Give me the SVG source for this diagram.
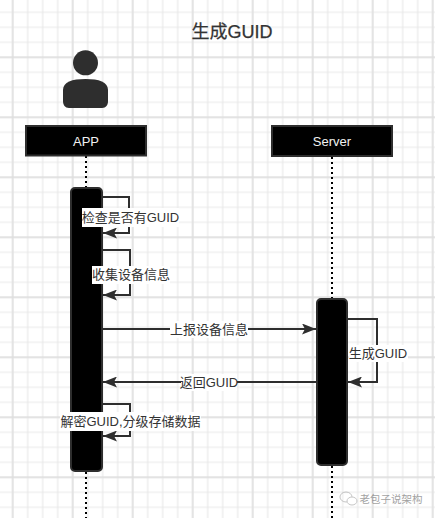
<svg xmlns="http://www.w3.org/2000/svg" width="435" height="518" viewBox="0 0 435 518">
<style>
text{font-family:"Liberation Sans","Noto Sans CJK SC",sans-serif;font-size:13px;fill:#333;text-anchor:middle}
.head{fill:#000;stroke:#2e2e2e;stroke-width:2}
.bar{fill:#000;stroke:#2e2e2e;stroke-width:2}
.life{fill:none;stroke:#000;stroke-width:2;stroke-dasharray:2 3}
.msg{fill:none;stroke:#2e2e2e;stroke-width:2;marker-end:url(#arr)}
.bg{fill:#fff}
.ht{fill:#f2f2f2;font-size:13px}
</style>
<defs>
<marker id="arr" markerUnits="userSpaceOnUse" markerWidth="15" markerHeight="11" refX="14" refY="5.5" orient="auto"><path d="M0 0L14 5.5L0 11L3 5.5Z" fill="#2e2e2e"/></marker>
<pattern id="minor" width="15" height="15" x="11.700" y="11.300" patternUnits="userSpaceOnUse"><path d="M0 1H15M1 0V15" fill="none" stroke="#e9e9e9" stroke-width="1.2"/></pattern>
<pattern id="major" width="60" height="60" x="11.700" y="-3.700" patternUnits="userSpaceOnUse"><path d="M0 1H60M1 0V60" fill="none" stroke="#dedede" stroke-width="1.4"/></pattern>
</defs>
<rect width="435" height="518" fill="#fff"/>
<rect width="435" height="518" fill="url(#minor)"/>
<rect width="435" height="518" fill="url(#major)"/>
<text x="232" y="38" style="font-size:18px;stroke:#333;stroke-width:0.25">生成GUID</text>
<g id="actor" fill="#2e2e2e">
<circle cx="85.5" cy="62.800" r="12.5"/>
<path d="M63 90C63 82 72 79 85.5 79C99 79 108 82 108 90V101C108 105 106 108 102 108H69C65 108 63 105 63 101Z"/>
</g>
<g id="connectors">
<path class="life" d="M86 156V188"/>
<path class="life" d="M86 472V518"/>
<path class="life" d="M332 157V299"/>
<path class="life" d="M332 466V518"/>
</g>
<g id="app-head"><rect class="head" x="26" y="126" width="120" height="29.500"/><text class="ht" x="86" y="146">APP</text></g>
<g id="server-head"><rect class="head" x="272" y="126" width="120" height="30"/><text class="ht" x="332" y="146">Server</text></g>
<g id="app-bar"><rect class="bar" x="71" y="188" width="31" height="283" rx="4"/></g>
<g id="server-bar"><rect class="bar" x="317" y="299" width="30" height="166" rx="4"/></g>
<g id="messages">
<path class="msg" d="M102 197H129V233H103"/>
<path class="msg" d="M102 250H130V295H103"/>
<path class="msg" d="M102 329H316"/>
<path class="msg" d="M317 382H103"/>
<path class="msg" d="M102 404H130V436H103"/>
<path class="msg" d="M347 319H377V382H348"/>
</g>
<g id="labels">
<rect class="bg" x="82" y="208" width="97" height="19"/><text x="130.500" y="222">检查是否有GUID</text>
<rect class="bg" x="92" y="266" width="78" height="18"/><text x="131" y="279">收集设备信息</text>
<rect class="bg" x="170" y="321" width="78" height="17"/><text x="209" y="334">上报设备信息</text>
<rect class="bg" x="181" y="374" width="56" height="17"/><text x="209" y="387">返回GUID</text>
<rect class="bg" x="60" y="412" width="141" height="19"/><text x="130.500" y="426">解密GUID,分级存储数据</text>
<rect class="bg" x="349" y="345" width="59" height="17"/><text x="378" y="358">生成GUID</text>
</g>
<g id="watermark" opacity="0.55">
<ellipse cx="346" cy="497" rx="6" ry="5" fill="none" stroke="#999" stroke-width="1"/>
<ellipse cx="352" cy="501" rx="5" ry="4" fill="#fff" stroke="#999" stroke-width="1"/>
<text x="391" y="503" style="font-size:10.500px;fill:#555">老包子说架构</text>
</g>
</svg>
